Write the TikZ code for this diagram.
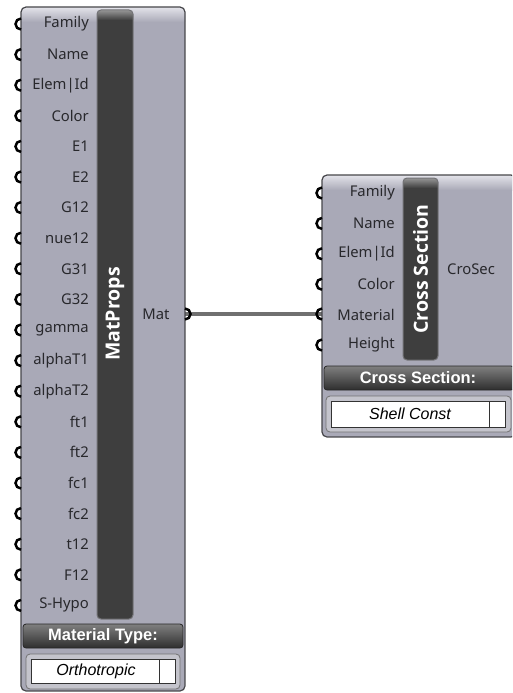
\documentclass[tikz,border=0pt]{standalone}
\usepackage{fontspec}
\setmainfont{Noto Sans}
\newfontfamily\boxfont{Liberation Sans}
\newfontfamily\namefont{Open Sans}
\usetikzlibrary{calc}

\definecolor{bodyfill}{RGB}{169,169,183}
\definecolor{bodyedge}{RGB}{70,70,74}
\definecolor{hilite}{RGB}{228,228,234}
\definecolor{barfill}{RGB}{62,62,62}
\definecolor{baredge}{RGB}{115,115,118}
\definecolor{bartop}{RGB}{150,150,150}
\definecolor{txt}{RGB}{40,40,44}
\definecolor{wirecol}{RGB}{112,112,112}
\definecolor{valframe}{RGB}{196,196,204}

\tikzset{
  bodyline/.style={draw=bodyedge,line width=1.2pt,rounded corners=5pt},
  inlab/.style={anchor=east,inner sep=0pt,text=txt,font=\fontsize{14.8}{14.8}\selectfont},
  outlab/.style={anchor=center,inner sep=0pt,text=txt,font=\fontsize{14.8}{14.8}\selectfont},
  namebar/.style={draw=baredge,line width=1pt,rounded corners=4pt},
  nametext/.style={rotate=90,text=white,inner sep=0pt,font=\namefont\bfseries\fontsize{19.5}{19.5}\selectfont},
  grip/.style={draw=black,line width=2.5pt},
  wire/.style={draw=wirecol,line width=4pt},
  typebar/.style={draw=black!85,line width=0.8pt,rounded corners=3pt,top color=black!50,bottom color=black!82},
  typetext/.style={text=white,inner sep=0pt,font=\boxfont\bfseries\fontsize{16.5}{16.5}\selectfont},
  valouter/.style={draw=black!55,line width=0.8pt,rounded corners=4pt,fill=valframe},
  valinner/.style={draw=black!80,line width=0.8pt,fill=white},
  valtext/.style={text=black,inner sep=0pt,font=\boxfont\itshape\fontsize{16}{16}\selectfont},
}

\begin{document}
\begin{tikzpicture}[x=1pt,y=-1pt]
\useasboundingbox (0,0) rectangle (512,693);
\clip (0,0) rectangle (512,693);

% ---------- connector between the two components ----------
\coordinate (matgrip) at (185,314);
\coordinate (R4) at (322,314);
\draw[wire] (matgrip) -- (R4);

% ================= MatProps component =================
\begin{scope}
  \clip[rounded corners=5pt] (21,7) rectangle (185,691);
  \fill[bodyfill] (21,7) rectangle (185,691);
  \shade[top color=hilite,bottom color=bodyfill] (21,7) rectangle (185,22);
\end{scope}
\draw[bodyline] (21,7) rectangle (185,691);

% name bar
\begin{scope}
  \clip[rounded corners=4pt] (97,10) rectangle (133,619);
  \fill[barfill] (97,10) rectangle (133,619);
  \shade[top color=bartop,bottom color=barfill] (97,10) rectangle (133,20);
\end{scope}
\draw[namebar] (97,10) rectangle (133,619);
\node[nametext] (matname) at (115,314) {MatProps};

% inputs
\foreach \lab [count=\i from 0] in {Family,Name,Elem|Id,Color,E1,E2,G12,nue12,G31,G32,gamma,alphaT1,alphaT2,ft1,ft2,fc1,fc2,t12,F12,S-Hypo}{
  \coordinate (L\i) at (21,{24+30.6*\i});
  \node[inlab] (Llab\i) at (89,{24+30.6*\i}) {\lab};
  \draw[grip] (L\i) ++(90:5.5) arc[start angle=90,end angle=270,radius=5.5];
}

% output
\node[outlab] (matlab) at (156,314) {Mat};
\draw[grip] (matgrip) ++(-90:5.5) arc[start angle=-90,end angle=90,radius=5.5];

% material type selector
\draw[typebar] (23,624) rectangle (183,648);
\node[typetext] (mattype) at (103,636) {Material Type:};
\draw[valouter] (26,654) rectangle (180,689);
\draw[valinner] (31,659) rectangle (159,683);
\draw[valinner] (159,659) rectangle (175,683);
\node[valtext] (ortho) at (96,671) {Orthotropic};

% ================= Cross Section component =================
\begin{scope}
  \clip[rounded corners=5pt] (322,175) rectangle (516,437);
  \fill[bodyfill] (322,175) rectangle (516,437);
  \shade[top color=hilite,bottom color=bodyfill] (322,175) rectangle (516,190);
\end{scope}
\draw[bodyline] (322,175) rectangle (516,437);

\begin{scope}
  \clip[rounded corners=4pt] (403,178) rectangle (438,360);
  \fill[barfill] (403,178) rectangle (438,360);
  \shade[top color=bartop,bottom color=barfill] (403,178) rectangle (438,188);
\end{scope}
\draw[namebar] (403,178) rectangle (438,360);
\node[nametext] (csname) at (420.5,269) {Cross Section};

\foreach \lab [count=\i from 0] in {Family,Name,Elem|Id,Color,Material,Height}{
  \node[inlab] (Rlab\i) at (395,{193+30.4*\i}) {\lab};
}
\foreach \i in {0,1,2,3,5}{
  \coordinate (R\i) at (322,{193+30.4*\i});
}
\foreach \i in {0,...,5}{
  \draw[grip] (R\i) ++(90:5.5) arc[start angle=90,end angle=270,radius=5.5];
}

\node[outlab] (croseclab) at (471,269) {CroSec};

\draw[typebar] (324,366) rectangle (514,390);
\node[typetext] (cstype) at (418,378) {Cross Section:};
\draw[valouter] (326,396) rectangle (511,432);
\draw[valinner] (331,401) rectangle (489,427);
\draw[valinner] (489,401) rectangle (505,427);
\node[valtext] (shell) at (410,414) {Shell Const};

\end{tikzpicture}
\end{document}
